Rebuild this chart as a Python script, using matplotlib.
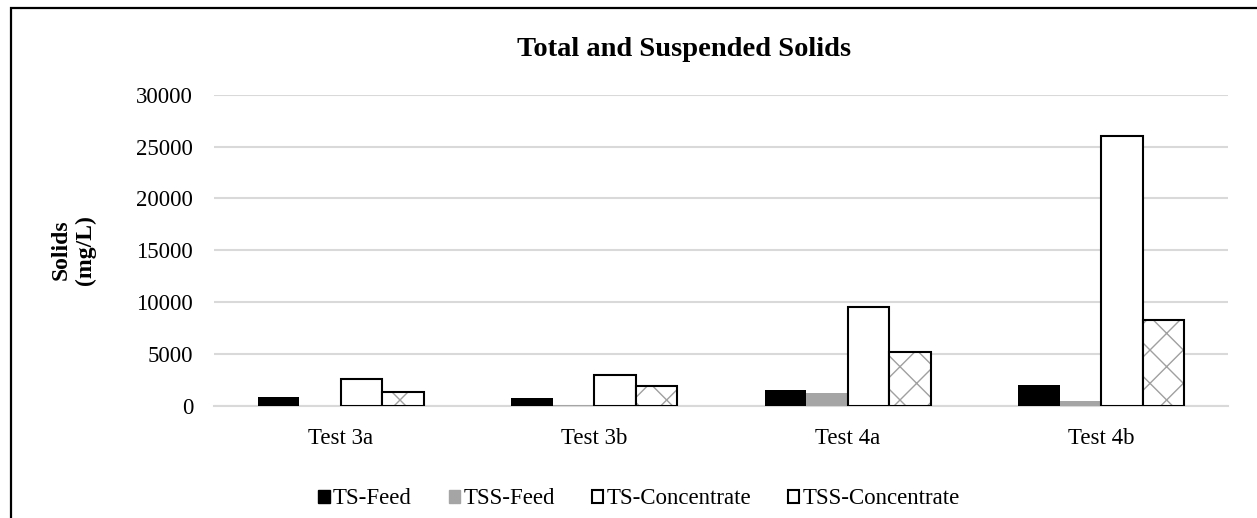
#!/usr/bin/env python3
"""
Total and suspended solids per test - grouped bar chart.
"""

import matplotlib
matplotlib.use('Agg')
import matplotlib.pyplot as plt
from matplotlib.patches import Patch, Rectangle
import numpy as np

plt.rcParams['font.family'] = ['Liberation Serif', 'DejaVu Serif']

tests = ['Test 3a', 'Test 3b', 'Test 4a', 'Test 4b']
ts_feed = [870, 800, 1500, 2050]
tss_feed = [20, 100, 1300, 450]
ts_conc = [2600, 3000, 9500, 26000]
tss_conc = [1350, 1900, 5250, 8300]
y_ticks = [0, 5000, 10000, 15000, 20000, 25000, 30000]

W, H = 1257, 518
fig = plt.figure(figsize=(W / 100, H / 100), dpi=100)

# chart area border (right/bottom edges fall outside the crop)
fig.patches.append(Rectangle((11 / W, -0.1), 1.2, 1 - 8 / H + 0.1, transform=fig.transFigure,
                             fill=False, edgecolor='black', linewidth=1.6))

ax = fig.add_axes([214 / W, 1 - 406 / H, (1228 - 214) / W, (406 - 94.7) / H])

x = np.arange(len(tests))
w = 0.164
grey_grid = '#d9d9d9'

ax.bar(x - 1.5 * w, ts_feed, w, color='black', zorder=3)
ax.bar(x - 0.5 * w, tss_feed, w, color='#a5a5a5', zorder=3)
ax.bar(x + 0.5 * w, ts_conc, w, color='white', edgecolor='black', linewidth=1.5, zorder=3)
# hatch drawn in grey underneath, black outline on top
ax.bar(x + 1.5 * w, tss_conc, w, color='white', edgecolor='#a0a0a0', hatch='x', linewidth=0, zorder=3)
ax.bar(x + 1.5 * w, tss_conc, w, fill=False, edgecolor='black', linewidth=1.5, zorder=4)

ax.set_xlim(-0.5, len(tests) - 0.5)
ax.set_ylim(0, 30000)
ax.set_yticks(y_ticks)
ax.set_xticks(x)
ax.set_xticklabels(tests)
ax.tick_params(axis='both', length=0, labelsize=16.5)
ax.tick_params(axis='y', pad=15)
ax.tick_params(axis='x', pad=16)
ax.grid(axis='y', color=grey_grid, linewidth=1.5, zorder=0)
ax.set_axisbelow(True)
for s in ['left', 'right', 'top']:
    ax.spines[s].set_visible(False)
ax.spines['bottom'].set_color(grey_grid)
ax.spines['bottom'].set_linewidth(1.5)

fig.text(684 / W, 1 - 50 / H, 'Total and Suspended Solids', ha='center', va='center',
         fontsize=20.5, fontweight='bold')
fig.text(73 / W, 1 - 250 / H, 'Solids\n(mg/L)', ha='center', va='center', rotation=90,
         fontsize=17, fontweight='bold', multialignment='center', linespacing=1.2)

handles = [
    Patch(facecolor='black', edgecolor='black', label='TS-Feed'),
    Patch(facecolor='#a5a5a5', edgecolor='#a5a5a5', label='TSS-Feed'),
    Patch(facecolor='white', edgecolor='black', linewidth=1.5, label='TS-Concentrate'),
    Patch(facecolor='white', edgecolor='black', linewidth=1.5, label='TSS-Concentrate'),
]
fig.legend(handles=handles, loc='center', bbox_to_anchor=(639 / W, 1 - 499 / H), ncol=4,
           frameon=False, fontsize=16.5, handlelength=0.5, handleheight=0.5,
           handletextpad=0.15, columnspacing=1.6)

plt.savefig('out.png', dpi=100)
